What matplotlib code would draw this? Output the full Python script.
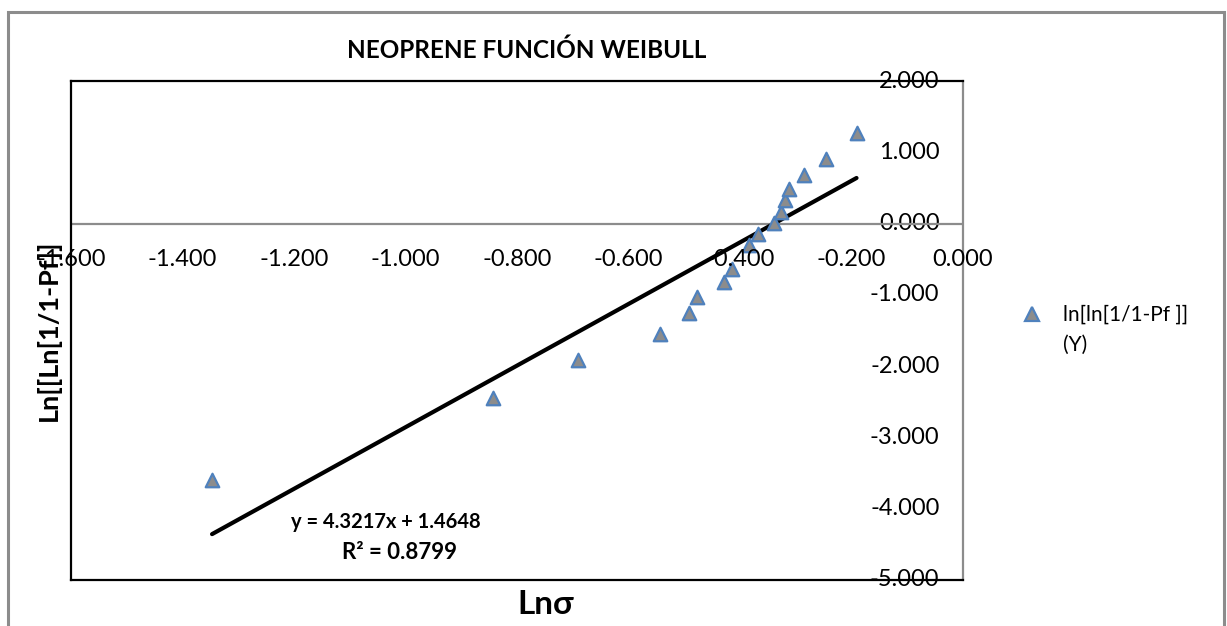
import matplotlib
matplotlib.use("Agg")
import matplotlib.pyplot as plt
import numpy as np
from matplotlib.patches import Rectangle

plt.rcParams['font.family'] = ['Lato', 'DejaVu Sans']

# Weibull linearisation data for neoprene
ln_sigma = [-1.347, -0.843, -0.691, -0.543, -0.492, -0.477, -0.429, -0.414,
            -0.384, -0.368, -0.339, -0.326, -0.319, -0.312, -0.285, -0.246, -0.191]
ln_ln_pf = [-3.592, -2.446, -1.915, -1.545, -1.258, -1.024, -0.817, -0.638,
            -0.296, -0.145, 0.010, 0.159, 0.324, 0.489, 0.676, 0.901, 1.277]

# Linear trend line
slope = 4.3217
intercept = 1.4648
r2 = 0.8799

x_ticks = [-1.6, -1.4, -1.2, -1.0, -0.8, -0.6, -0.4, -0.2, 0.0]
y_ticks = [2, 1, 0, -1, -2, -3, -4, -5]

W, H = 1227, 626
fig = plt.figure(figsize=(W / 100, H / 100), dpi=100)

# outer chart frame
fig.patches.append(Rectangle((8 / W, -0.1), (1224 - 8) / W, 1.1 - 12 / H,
                             transform=fig.transFigure, fill=False,
                             edgecolor='#8c8c8c', linewidth=2.2))

ax = fig.add_axes([71 / W, 1 - 580 / H, (963 - 71) / W, (580 - 81) / H])
ax.set_xlim(-1.6, 0.0)
ax.set_ylim(-5, 2)

for side in ('left', 'top', 'bottom'):
    ax.spines[side].set_color('black')
    ax.spines[side].set_linewidth(1.6)
ax.spines['right'].set_color('#8c8c8c')
ax.spines['right'].set_linewidth(1.6)

# horizontal axis crossing at y = 0
ax.axhline(0, color='#8c8c8c', linewidth=1.6, zorder=1)

ax.set_xticks(x_ticks)
ax.set_yticks(y_ticks)
ax.tick_params(length=0)
ax.set_xticklabels([])
ax.set_yticklabels([])

for xv in x_ticks:
    ax.text(xv, -0.5, f"{xv:.3f}", ha='center', va='center', fontsize=17,
            color='black', zorder=5)
for yv in y_ticks:
    ax.annotate(f"{yv:.3f}", xy=(0, yv), xytext=(-17, 0),
                textcoords='offset points', ha='right', va='center',
                fontsize=17, color='black', zorder=0)

# trend line across the data range
xl = np.array([min(ln_sigma), max(ln_sigma)])
ax.plot(xl, slope * xl + intercept, color='black', linewidth=3, zorder=3,
        solid_capstyle='round')

ax.scatter(ln_sigma, ln_ln_pf, marker='^', s=95, facecolor='#8c8c8c',
           edgecolor='#4f81bd', linewidth=1.6, zorder=4)

ax.text(-1.035, -4.18, f"y = {slope}x + {intercept}", ha='center', va='center',
        fontsize=14.5, fontweight='bold')
ax.text(-1.01, -4.62, f"R² = {r2}", ha='center', va='center',
        fontsize=16, fontweight='bold')

fig.text(527 / W, 1 - 50 / H, "NEOPRENE FUNCIÓN WEIBULL", ha='center',
         va='center', fontsize=17.5, fontweight='bold')
fig.text(546 / W, 1 - 604 / H, "Lnσ", ha='center', va='center',
         fontsize=24, fontweight='bold')
fig.text(48 / W, 1 - 330 / H, "Ln[[Ln[1/1-Pf]]", ha='center', va='center',
         rotation=90, fontsize=19.5, fontweight='bold')

# legend entry
fig.lines.append(plt.Line2D([1032 / W], [1 - 314 / H], transform=fig.transFigure,
                            marker='^', markersize=10, markerfacecolor='#8c8c8c',
                            markeredgecolor='#4f81bd', markeredgewidth=1.6,
                            linestyle='none'))
fig.text(1063 / W, 1 - 315 / H, "ln[ln[1/1-Pf ]]", ha='left', va='center',
         fontsize=15)
fig.text(1063 / W, 1 - 345 / H, "(Y)", ha='left', va='center', fontsize=15)

fig.savefig("out.png", dpi=100, facecolor='white')
